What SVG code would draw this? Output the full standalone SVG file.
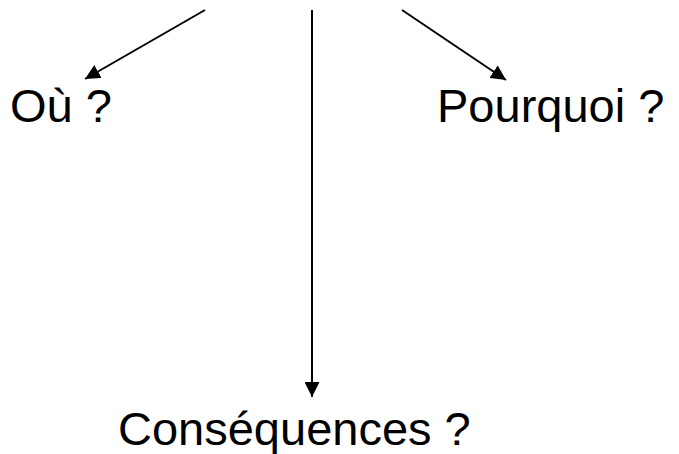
<svg xmlns="http://www.w3.org/2000/svg" width="679" height="454" viewBox="0 0 679 454">
<style>
.t{font-family:"Liberation Sans",Arial,sans-serif;font-size:47px;fill:#000}
.c{stroke:#000;stroke-width:2;fill:none}
</style>
<defs>
<marker id="ah" viewBox="0 0 10 10" refX="10" refY="5" markerWidth="7.5" markerHeight="7.5" markerUnits="strokeWidth" orient="auto">
<path d="M0,0 L10,5 L0,10 Z" fill="#000"/>
</marker>
</defs>
<rect width="679" height="454" fill="#fff"/>
<g id="connectors">
<line class="c" x1="205" y1="10" x2="85" y2="79" marker-end="url(#ah)"/>
<line class="c" x1="402" y1="10" x2="506" y2="80" marker-end="url(#ah)"/>
<line class="c" x1="312" y1="10" x2="312" y2="397" marker-end="url(#ah)"/>
</g>
<g id="ou"><text class="t" x="10" y="122">Où ?</text></g>
<g id="pourquoi"><text class="t" x="437" y="122">Pourquoi ?</text></g>
<g id="consequences"><text class="t" x="118" y="445">Conséquences ?</text></g>
</svg>
